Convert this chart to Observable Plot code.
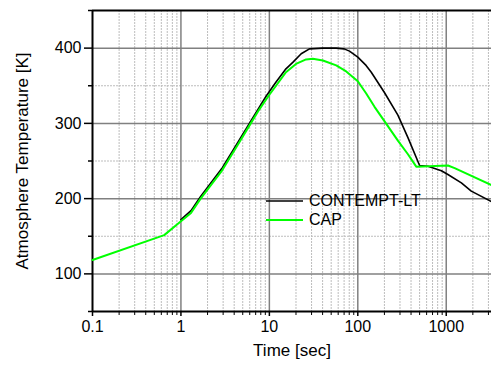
<!DOCTYPE html>
<html>
<head>
<meta charset="utf-8">
<script src="https://cdn.jsdelivr.net/npm/d3@7"></script>
<script src="https://cdn.jsdelivr.net/npm/@observablehq/plot@0.6"></script>
<style>
  html, body { margin: 0; padding: 0; background: #fff; }
  #wrap { position: relative; width: 491px; height: 366px; font-family: "Liberation Sans", Arial, sans-serif; }
  #legend { position: absolute; left: 266px; top: 191px; font-size: 16px; line-height: 19px; color: #000; }
  #legend .row { display: flex; align-items: center; height: 19px; }
  #legend svg { margin-right: 6px; }
</style>
</head>
<body>
<div id="wrap"></div>
<script>
// Data
const contemptT = [1, 1.3, 1.67, 2.94, 4.16, 6.16, 7.64, 9.18, 11.9, 15.4, 18.4, 22.9, 28.4, 40, 56.9, 70, 80.5, 100, 124, 142, 200, 284, 369, 500, 622, 881, 1045, 1483, 1919, 3250];
const contemptV = [172, 184, 203, 241, 270, 303, 321, 336, 355, 372.5, 381, 392.5, 399, 400, 400, 399, 396, 388, 377, 368, 341, 311, 281, 244, 243, 237, 232, 221, 210, 196];
const capT = [0.1, 0.647, 1, 1.3, 1.67, 2.94, 4.16, 6.16, 7.64, 10, 11.9, 15.4, 20, 26, 31, 40.3, 57, 74, 100, 124, 154.6, 200, 284, 369, 458, 1047, 1245, 3250];
const capV = [118.5, 151.5, 170, 181, 200, 238, 267, 300, 318, 338, 350, 368, 379, 385, 386, 383.6, 377, 369, 356, 340, 322, 303, 277, 259, 242.5, 244, 240.5, 218];

const seriesNames = ["CONTEMPT-LT", "CAP"];
const seriesColors = ["#000000", "#00ff00"];

const xTicks = [0.1, 1, 10, 100, 1000];
const xTickLabels = ["0.1", "1", "10", "100", "1000"];
const xMinor = [0.2,0.3,0.4,0.5,0.6,0.7,0.8,0.9, 2,3,4,5,6,7,8,9, 20,30,40,50,60,70,80,90, 200,300,400,500,600,700,800,900, 2000,3000];
const yTicks = [100, 200, 300, 400];
const yMinor = [150, 250, 350];
const xDomain = [0.1, 3250];
const yDomain = [50, 450];
const xTitle = "Time [sec]";
const yTitle = "Atmosphere Temperature [K]";

const contempt = contemptT.map((t, i) => ({t, v: contemptV[i]}));
const cap = capT.map((t, i) => ({t, v: capV[i]}));

const chart = Plot.plot({
  width: 491,
  height: 366,
  marginLeft: 92,
  marginRight: 0,
  marginTop: 10,
  marginBottom: 55,
  style: {fontFamily: "'Liberation Sans', Arial, sans-serif", fontSize: "16px", color: "#000", background: "#fff"},
  x: {type: "log", domain: xDomain, axis: null},
  y: {domain: yDomain, axis: null},
  marks: [
    // minor grid
    Plot.ruleX(xMinor, {stroke: "#bdbdbd", strokeWidth: 1, strokeDasharray: "2,1"}),
    Plot.ruleY(yMinor, {stroke: "#bdbdbd", strokeWidth: 1, strokeDasharray: "2,1"}),
    // major grid
    Plot.ruleX(xTicks.slice(1), {stroke: "#808080", strokeWidth: 1.5}),
    Plot.ruleY(yTicks, {stroke: "#808080", strokeWidth: 1.5}),
    // ticks
    Plot.axisX(xTicks, {anchor: "bottom", tickSize: 5, tickPadding: 4, tickFormat: d => xTickLabels[xTicks.indexOf(d)], stroke: "#000", strokeWidth: 1.5, fontSize: 16, label: null}),
    Plot.axisX(xMinor, {anchor: "bottom", tickSize: 4, tickFormat: () => "", stroke: "#000", strokeWidth: 1, label: null}),
    Plot.axisY(yTicks, {anchor: "left", tickSize: 8, tickPadding: 3, tickFormat: d => String(d), stroke: "#000", strokeWidth: 1.5, fontSize: 16, label: null}),
    Plot.axisY([50, ...yMinor, 450], {anchor: "left", tickSize: 4, tickFormat: () => "", stroke: "#000", strokeWidth: 1.5, label: null}),
    // frame lines
    Plot.ruleX([xDomain[0]], {stroke: "#000", strokeWidth: 2}),
    Plot.ruleY([yDomain[0]], {stroke: "#000", strokeWidth: 2}),
    Plot.ruleY([yDomain[1]], {stroke: "#000", strokeWidth: 2}),
    // series
    Plot.line(contempt, {x: "t", y: "v", stroke: seriesColors[0], strokeWidth: 1.6}),
    Plot.line(cap, {x: "t", y: "v", stroke: seriesColors[1], strokeWidth: 2}),
    // titles
    Plot.text([xTitle], {frameAnchor: "bottom", dy: 44, fontSize: 17, fill: "#000"}),
    Plot.text([yTitle], {frameAnchor: "left", dx: -70, rotate: -90, textAnchor: "middle", fontSize: 17, fill: "#000"})
  ]
});

const wrap = document.getElementById("wrap");
wrap.appendChild(chart);

const legend = document.createElement("div");
legend.id = "legend";
seriesNames.forEach((name, i) => {
  const row = document.createElement("div");
  row.className = "row";
  row.innerHTML = `<svg width="37" height="4"><line x1="0" x2="37" y1="2" y2="2" stroke="${seriesColors[i]}" stroke-width="${i === 0 ? 1.6 : 2}"/></svg><span>${name}</span>`;
  legend.appendChild(row);
});
wrap.appendChild(legend);
</script>
</body>
</html>
